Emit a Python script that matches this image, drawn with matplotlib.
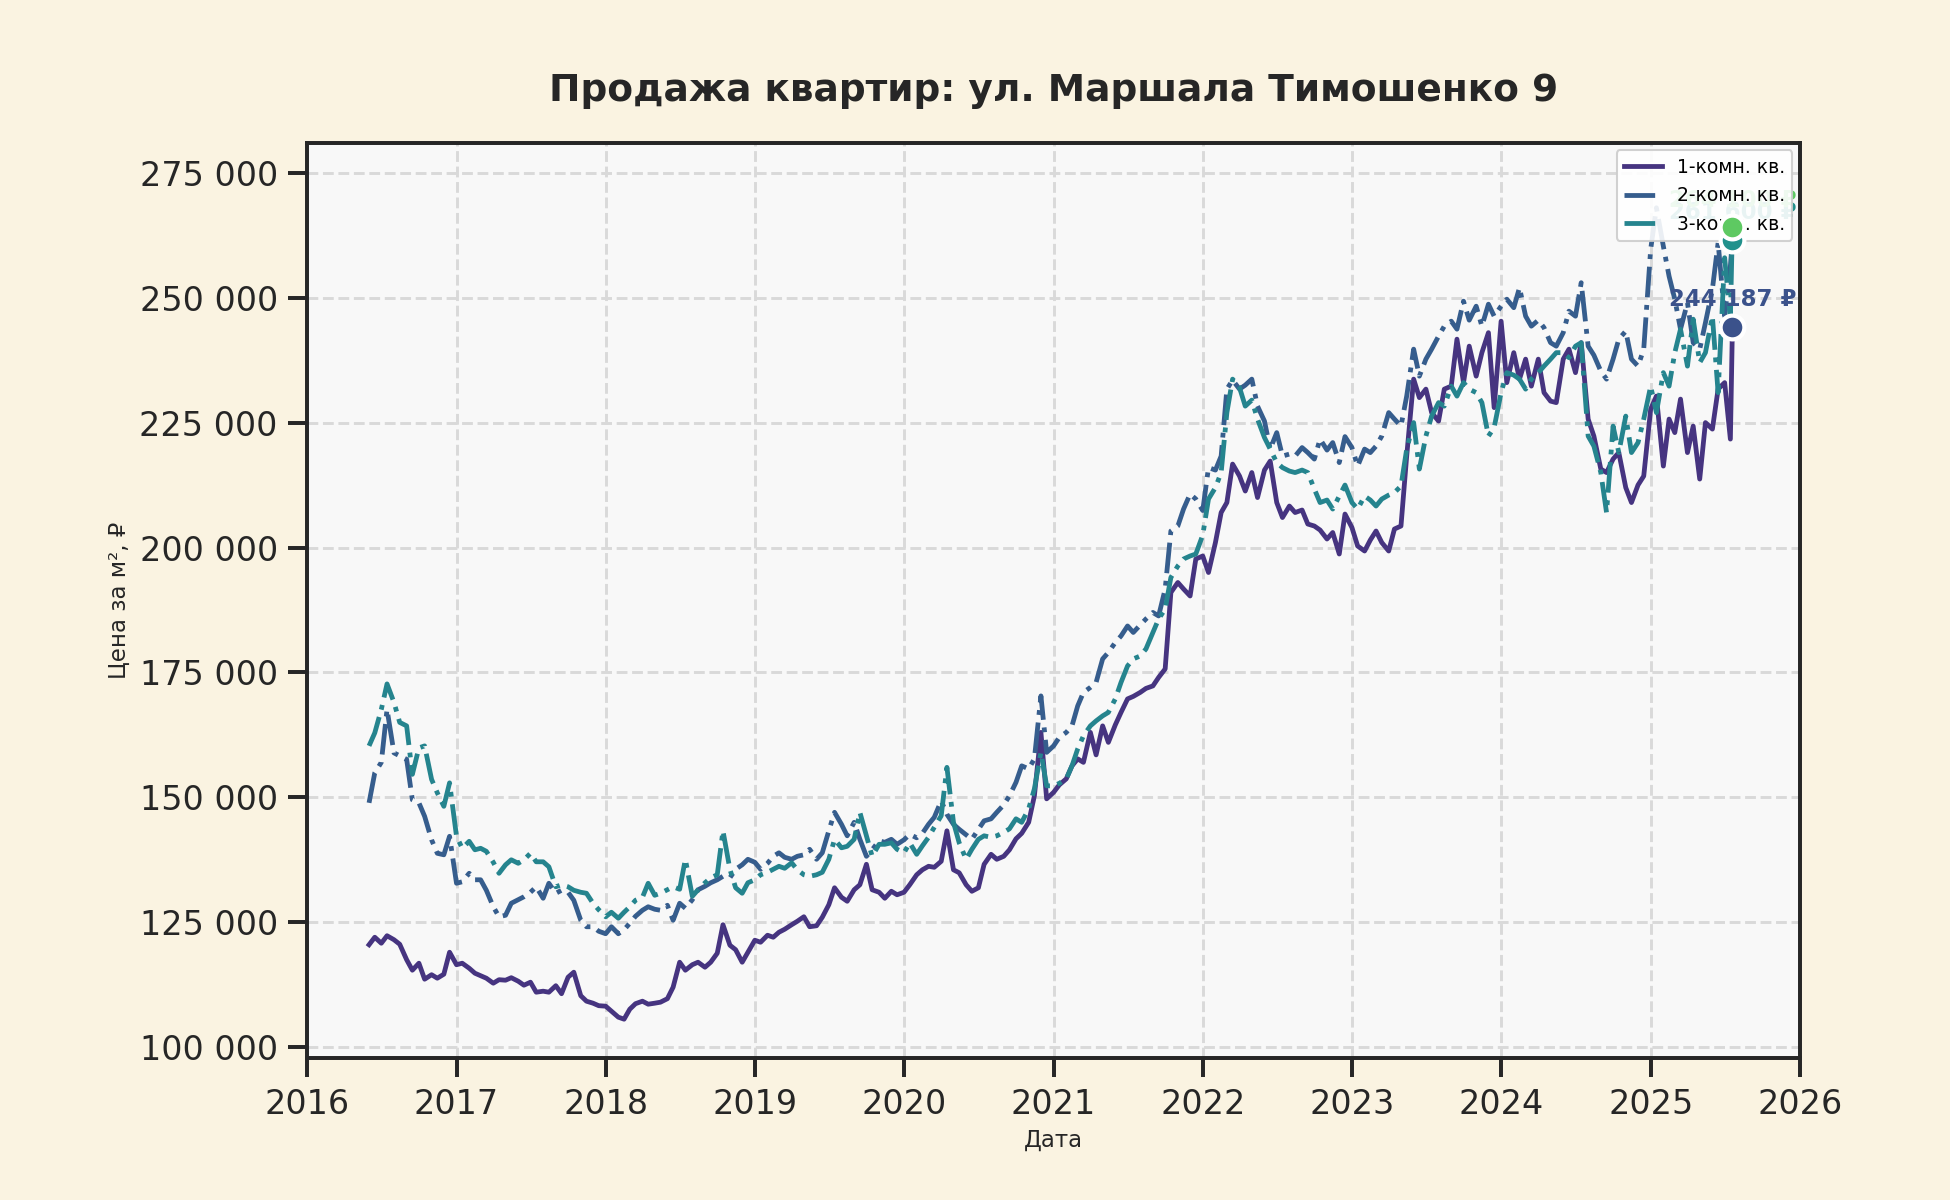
import numpy as np
import pandas as pd
import matplotlib
matplotlib.use("Agg")
import matplotlib.pyplot as plt
import matplotlib.dates as mdates
from matplotlib.ticker import FuncFormatter

# ---------------- data (thousand RUB per m2, semi-monthly readings) ----------------
dates = list(pd.date_range("2016-06-01", "2025-07-15", freq="SMS")) + [pd.Timestamp("2025-07-20")]

room1_k = [
    120.5, 122.0, 120.8, 122.3, 121.5, 120.6, 117.5, 115.4, 116.8, 113.6, 114.5, 113.8, 114.6, 119.0,
    116.5, 116.8, 115.8, 114.8, 114.3, 113.8, 112.8, 113.5, 113.4, 113.9, 113.2, 112.4, 113.0, 111.0, 111.2, 111.0, 112.3, 110.7, 114.0, 115.0, 110.3, 109.2, 108.8, 108.3,
    108.2, 107.2, 106.0, 105.6, 107.6, 108.7, 109.2, 108.6, 108.8, 109.0, 109.7, 112.0, 117.0, 115.4, 116.5, 117.0, 116.0, 117.0, 118.8, 124.5, 120.4, 119.5, 117.0, 119.0,
    121.4, 121.0, 122.4, 122.0, 123.0, 123.6, 124.5, 125.2, 126.1, 124.1, 124.3, 126.0, 128.5, 131.9, 130.0, 129.2, 131.5, 132.5, 136.6, 131.5, 131.0, 129.8, 131.2, 130.5,
    131.0, 132.5, 134.5, 135.5, 136.2, 136.0, 137.2, 143.3, 135.5, 134.9, 132.5, 131.2, 131.9, 136.6, 138.6, 137.6, 138.2, 139.5, 141.7, 142.8, 145.0, 150.3, 163.0, 149.7,
    151.0, 152.5, 153.7, 156.3, 157.7, 157.0, 163.0, 158.5, 164.3, 161.0, 164.5, 167.0, 169.7, 170.2, 171.0, 171.8, 172.3, 174.0, 175.7, 191.0, 193.0, 191.7, 190.3, 197.7,
    198.3, 195.0, 201.0, 207.0, 209.0, 216.7, 214.3, 211.3, 215.0, 210.0, 215.5, 217.3, 209.0, 206.0, 208.3, 207.0, 207.5, 204.7, 204.3, 203.5, 201.7, 203.0, 198.7, 206.7,
    204.0, 200.3, 199.3, 201.5, 203.3, 201.0, 199.3, 203.7, 204.3, 218.3, 233.7, 230.0, 231.7, 227.0, 225.3, 231.7, 232.3, 241.7, 233.0, 240.3, 234.3, 239.0, 243.0, 228.0,
    245.3, 233.0, 239.0, 233.7, 237.7, 232.3, 237.7, 231.0, 229.3, 229.0, 237.7, 239.7, 235.0, 241.0, 225.7, 222.3, 215.7, 215.0, 217.7, 219.0, 212.0, 209.0, 212.5, 214.3,
    227.7, 230.3, 216.3, 225.7, 223.0, 229.7, 219.0, 224.3, 213.7, 225.0, 223.7, 231.7, 233.0, 221.7, 244.187,
]

room2_k = [
    148.9, 154.9, 157.0, 167.6, 158.9, 158.3, 157.6, 149.5, 148.9, 146.2, 141.5, 138.8, 138.5, 142.2,
    132.8, 133.1, 134.8, 133.5, 133.5, 131.4, 128.1, 126.1, 126.4, 128.8, 129.5, 130.1, 131.0, 132.1, 129.8, 132.8, 130.8, 131.4, 131.0, 129.4, 125.4, 124.1, 124.1, 123.2,
    122.7, 124.1, 122.7, 123.5, 124.8, 126.2, 127.4, 128.1, 127.6, 127.4, 128.4, 125.4, 128.8, 127.8, 129.5, 131.5, 132.2, 132.9, 133.5, 134.2, 133.9, 135.6, 136.5, 137.6,
    137.0, 135.6, 136.8, 138.2, 138.9, 138.0, 137.6, 138.2, 138.5, 139.6, 137.6, 138.9, 143.3, 147.0, 144.6, 142.3, 145.0, 141.6, 138.2, 139.5, 141.3, 141.0, 141.6, 140.6,
    141.5, 142.6, 141.9, 142.8, 144.6, 146.0, 149.3, 146.6, 144.6, 143.6, 142.5, 141.6, 143.6, 145.3, 145.7, 147.0, 148.5, 150.3, 153.0, 156.3, 155.7, 157.7, 170.3, 159.0,
    160.3, 162.0, 163.0, 164.3, 168.3, 171.0, 172.0, 173.0, 177.7, 179.0, 181.0, 182.3, 184.3, 183.0, 184.5, 185.7, 187.0, 186.3, 191.7, 203.3, 204.3, 207.7, 210.7, 209.7,
    207.4, 216.0, 215.5, 218.3, 231.7, 233.5, 231.7, 232.5, 233.7, 228.3, 225.3, 219.7, 223.0, 218.3, 218.7, 218.3, 220.0, 219.0, 217.7, 221.7, 219.5, 221.0, 217.0, 222.2,
    220.0, 216.3, 219.7, 219.0, 220.3, 222.3, 227.0, 225.7, 224.3, 230.3, 239.7, 234.3, 237.7, 239.7, 242.3, 244.3, 245.3, 243.7, 249.3, 245.5, 248.3, 244.3, 248.7, 246.3,
    248.3, 249.7, 248.0, 252.0, 246.3, 244.3, 245.5, 244.0, 241.0, 240.3, 243.0, 247.3, 246.3, 253.0, 240.3, 238.5, 235.3, 233.7, 237.7, 241.7, 243.3, 237.7, 236.3, 239.7,
    259.7, 268.0, 260.3, 254.3, 249.7, 243.7, 249.0, 241.0, 239.7, 245.0, 251.7, 261.0, 246.3, 256.3, 261.6,
]

room3_k = [
    160.3, 162.9, 167.6, 172.7, 169.0, 165.0, 164.3, 154.6, 159.9, 160.3, 153.6, 150.9, 148.2, 152.9,
    142.2, 139.8, 141.2, 139.5, 139.8, 139.2, 137.0, 134.8, 136.5, 137.5, 136.8, 137.5, 138.8, 137.1, 137.1, 136.1, 132.1, 132.5, 132.1, 131.4, 131.0, 130.8, 128.8, 127.5,
    126.1, 127.0, 125.8, 127.0, 128.1, 129.4, 130.0, 132.8, 130.4, 130.8, 131.5, 132.1, 131.6, 137.6, 130.2, 131.5, 132.9, 133.9, 134.5, 143.3, 135.6, 131.9, 130.8, 132.9,
    133.5, 134.5, 135.0, 135.6, 136.2, 135.8, 136.9, 135.5, 134.5, 134.2, 134.5, 135.0, 137.6, 141.6, 139.9, 140.2, 141.6, 147.0, 142.3, 138.2, 140.6, 140.6, 140.9, 139.6,
    138.9, 140.9, 138.6, 140.3, 142.0, 144.0, 146.3, 156.0, 145.0, 140.9, 137.6, 139.6, 141.6, 142.3, 142.0, 142.3, 143.0, 143.7, 145.7, 145.0, 147.7, 151.7, 159.0, 152.3,
    152.3, 152.8, 153.7, 156.3, 159.7, 162.3, 164.3, 165.3, 166.3, 167.0, 169.7, 173.0, 176.3, 177.7, 178.3, 179.7, 183.0, 185.7, 187.7, 194.0, 196.3, 197.7, 198.3, 198.7,
    202.5, 209.7, 212.0, 215.0, 227.0, 233.7, 232.0, 228.3, 229.5, 225.7, 222.0, 219.7, 217.0, 216.0, 215.3, 215.0, 215.5, 215.0, 211.7, 209.0, 209.5, 207.7, 210.3, 212.5,
    209.0, 207.7, 210.3, 209.5, 208.3, 209.7, 210.5, 211.0, 212.3, 219.7, 225.0, 215.7, 222.3, 226.3, 229.0, 228.3, 232.3, 230.3, 233.0, 231.7, 231.0, 229.0, 222.3, 224.0,
    231.0, 235.0, 234.5, 233.7, 231.7, 233.7, 235.0, 236.3, 237.7, 239.0, 239.0, 238.0, 240.3, 241.0, 222.3, 220.3, 215.0, 207.0, 224.3, 219.0, 226.3, 219.0, 221.0, 225.7,
    232.3, 227.0, 235.0, 232.3, 239.0, 243.7, 236.3, 245.7, 237.0, 239.0, 246.3, 231.0, 258.0, 245.7, 264.1,
]

labels = ["1-комн. кв.", "2-комн. кв.", "3-комн. кв."]
title = "Продажа квартир: ул. Маршала Тимошенко 9"
y_ticks = [100000, 125000, 150000, 175000, 200000, 225000, 250000, 275000]

# ---------------- style ----------------
plt.rcParams["font.family"] = ["DejaVu Sans", "Noto Sans"]
INK = "#262626"
fig = plt.figure(figsize=(13, 8), dpi=150, facecolor="#FAF3E1")
ax = fig.add_axes([0.1574, 0.118, 0.923 - 0.1574, 0.881 - 0.118])
ax.set_facecolor("#F8F8F8")

line_cols = [plt.cm.viridis(0.15), plt.cm.viridis(0.29), plt.cm.viridis(0.45)]
dot_cols = ["#3b528b", "#21918c", "#5ec962"]
styles = ["-", "-.", "-."]

series = [np.array(room1_k) * 1000, np.array(room2_k) * 1000, np.array(room3_k) * 1000]
x = pd.to_datetime(dates)

for vals, lab, col, ls in zip(series, labels, line_cols, styles):
    ax.plot(x, vals, ls, color=col, lw=2.3, label=lab, zorder=2)

for vals, col in zip(series, dot_cols):
    ax.scatter([x[-1]], [vals[-1]], s=130, color=col, edgecolor="white",
               linewidth=2, zorder=7)
    txt = f"{vals[-1]:,.0f} ₽".replace(",", " ")
    ax.annotate(txt, (x[-1], vals[-1]), xytext=(0, 13), textcoords="offset points",
                ha="center", va="center", fontsize=11, fontweight="bold",
                color=col, zorder=3)

ax.set_xlim(pd.Timestamp("2016-01-01"), pd.Timestamp("2026-01-01"))
ax.set_ylim(97750, 281000)
ax.set_yticks(y_ticks)
ax.yaxis.set_major_formatter(FuncFormatter(lambda v, p: f"{v:,.0f}".replace(",", " ")))
ax.xaxis.set_major_locator(mdates.YearLocator())
ax.xaxis.set_major_formatter(mdates.DateFormatter("%Y"))

ax.grid(True, linestyle="--", color="#d9d9d9", linewidth=1.4, zorder=0)
ax.set_axisbelow(True)

for sp in ax.spines.values():
    sp.set_color(INK)
    sp.set_linewidth(1.9)
ax.tick_params(axis="both", which="major", length=9, width=1.9, color=INK,
               labelsize=16, labelcolor=INK, pad=5)

ax.set_title(title, fontsize=18, fontweight="bold", color=INK, pad=20)
ax.set_xlabel("Дата", fontsize=11, color=INK)
ax.set_ylabel("Цена за м², ₽", fontsize=11, color=INK)

leg = ax.legend(loc="upper right", fontsize=9, framealpha=0.9, facecolor="white",
                edgecolor="#cccccc", borderaxespad=0.4)
leg.set_zorder(5)

fig.savefig("out.png", dpi=150, facecolor=fig.get_facecolor())
